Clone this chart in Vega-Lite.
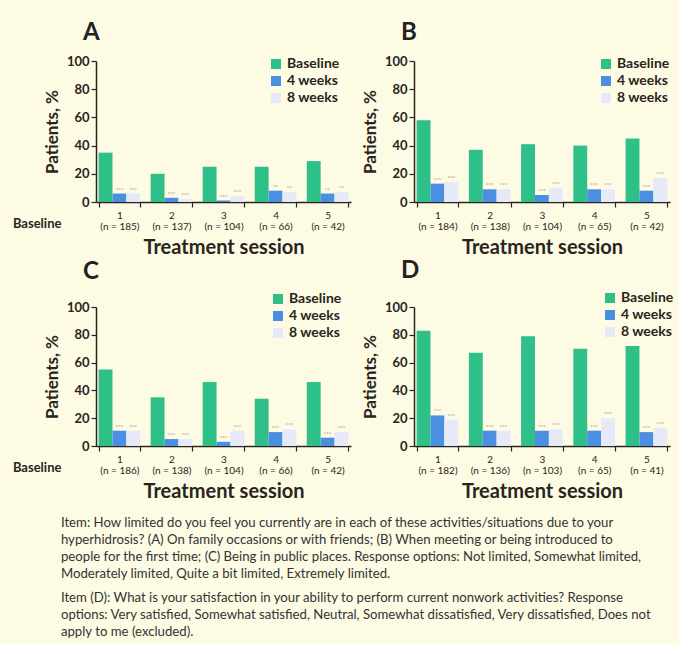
{
  "$schema": "https://vega.github.io/schema/vega-lite/v6.json",
  "background": "#fdfbe4",
  "padding": {"left": 12, "top": 21, "right": 5, "bottom": 5},
  "datasets": {
    "d": [
      {"panel": "A", "s": "1|(n = 185)", "series": "Baseline", "v": 35, "sig": ""},
      {"panel": "A", "s": "1|(n = 185)", "series": "4 weeks", "v": 6, "sig": "***"},
      {"panel": "A", "s": "1|(n = 185)", "series": "8 weeks", "v": 6, "sig": "***"},
      {"panel": "A", "s": "2|(n = 137)", "series": "Baseline", "v": 20, "sig": ""},
      {"panel": "A", "s": "2|(n = 137)", "series": "4 weeks", "v": 3, "sig": "***"},
      {"panel": "A", "s": "2|(n = 137)", "series": "8 weeks", "v": 2, "sig": "***"},
      {"panel": "A", "s": "3|(n = 104)", "series": "Baseline", "v": 25, "sig": ""},
      {"panel": "A", "s": "3|(n = 104)", "series": "4 weeks", "v": 1, "sig": "***"},
      {"panel": "A", "s": "3|(n = 104)", "series": "8 weeks", "v": 4, "sig": "***"},
      {"panel": "A", "s": "4|(n = 66)", "series": "Baseline", "v": 25, "sig": ""},
      {"panel": "A", "s": "4|(n = 66)", "series": "4 weeks", "v": 8, "sig": "**"},
      {"panel": "A", "s": "4|(n = 66)", "series": "8 weeks", "v": 7, "sig": "**"},
      {"panel": "A", "s": "5|(n = 42)", "series": "Baseline", "v": 29, "sig": ""},
      {"panel": "A", "s": "5|(n = 42)", "series": "4 weeks", "v": 6, "sig": "**"},
      {"panel": "A", "s": "5|(n = 42)", "series": "8 weeks", "v": 7, "sig": "**"},
      {"panel": "B", "s": "1|(n = 184)", "series": "Baseline", "v": 58, "sig": ""},
      {"panel": "B", "s": "1|(n = 184)", "series": "4 weeks", "v": 13, "sig": "***"},
      {"panel": "B", "s": "1|(n = 184)", "series": "8 weeks", "v": 14, "sig": "***"},
      {"panel": "B", "s": "2|(n = 138)", "series": "Baseline", "v": 37, "sig": ""},
      {"panel": "B", "s": "2|(n = 138)", "series": "4 weeks", "v": 9, "sig": "***"},
      {"panel": "B", "s": "2|(n = 138)", "series": "8 weeks", "v": 9, "sig": "***"},
      {"panel": "B", "s": "3|(n = 104)", "series": "Baseline", "v": 41, "sig": ""},
      {"panel": "B", "s": "3|(n = 104)", "series": "4 weeks", "v": 5, "sig": "***"},
      {"panel": "B", "s": "3|(n = 104)", "series": "8 weeks", "v": 10, "sig": "***"},
      {"panel": "B", "s": "4|(n = 65)", "series": "Baseline", "v": 40, "sig": ""},
      {"panel": "B", "s": "4|(n = 65)", "series": "4 weeks", "v": 9, "sig": "***"},
      {"panel": "B", "s": "4|(n = 65)", "series": "8 weeks", "v": 9, "sig": "***"},
      {"panel": "B", "s": "5|(n = 42)", "series": "Baseline", "v": 45, "sig": ""},
      {"panel": "B", "s": "5|(n = 42)", "series": "4 weeks", "v": 8, "sig": "***"},
      {"panel": "B", "s": "5|(n = 42)", "series": "8 weeks", "v": 17, "sig": "***"},
      {"panel": "C", "s": "1|(n = 186)", "series": "Baseline", "v": 55, "sig": ""},
      {"panel": "C", "s": "1|(n = 186)", "series": "4 weeks", "v": 11, "sig": "***"},
      {"panel": "C", "s": "1|(n = 186)", "series": "8 weeks", "v": 11, "sig": "***"},
      {"panel": "C", "s": "2|(n = 138)", "series": "Baseline", "v": 35, "sig": ""},
      {"panel": "C", "s": "2|(n = 138)", "series": "4 weeks", "v": 5, "sig": "***"},
      {"panel": "C", "s": "2|(n = 138)", "series": "8 weeks", "v": 5, "sig": "***"},
      {"panel": "C", "s": "3|(n = 104)", "series": "Baseline", "v": 46, "sig": ""},
      {"panel": "C", "s": "3|(n = 104)", "series": "4 weeks", "v": 3, "sig": "***"},
      {"panel": "C", "s": "3|(n = 104)", "series": "8 weeks", "v": 11, "sig": "***"},
      {"panel": "C", "s": "4|(n = 66)", "series": "Baseline", "v": 34, "sig": ""},
      {"panel": "C", "s": "4|(n = 66)", "series": "4 weeks", "v": 10, "sig": "***"},
      {"panel": "C", "s": "4|(n = 66)", "series": "8 weeks", "v": 12, "sig": "***"},
      {"panel": "C", "s": "5|(n = 42)", "series": "Baseline", "v": 46, "sig": ""},
      {"panel": "C", "s": "5|(n = 42)", "series": "4 weeks", "v": 6, "sig": "***"},
      {"panel": "C", "s": "5|(n = 42)", "series": "8 weeks", "v": 10, "sig": "***"},
      {"panel": "D", "s": "1|(n = 182)", "series": "Baseline", "v": 83, "sig": ""},
      {"panel": "D", "s": "1|(n = 182)", "series": "4 weeks", "v": 22, "sig": "***"},
      {"panel": "D", "s": "1|(n = 182)", "series": "8 weeks", "v": 19, "sig": "***"},
      {"panel": "D", "s": "2|(n = 136)", "series": "Baseline", "v": 67, "sig": ""},
      {"panel": "D", "s": "2|(n = 136)", "series": "4 weeks", "v": 11, "sig": "***"},
      {"panel": "D", "s": "2|(n = 136)", "series": "8 weeks", "v": 11, "sig": "***"},
      {"panel": "D", "s": "3|(n = 103)", "series": "Baseline", "v": 79, "sig": ""},
      {"panel": "D", "s": "3|(n = 103)", "series": "4 weeks", "v": 11, "sig": "***"},
      {"panel": "D", "s": "3|(n = 103)", "series": "8 weeks", "v": 12, "sig": "***"},
      {"panel": "D", "s": "4|(n = 65)", "series": "Baseline", "v": 70, "sig": ""},
      {"panel": "D", "s": "4|(n = 65)", "series": "4 weeks", "v": 11, "sig": "***"},
      {"panel": "D", "s": "4|(n = 65)", "series": "8 weeks", "v": 20, "sig": "***"},
      {"panel": "D", "s": "5|(n = 41)", "series": "Baseline", "v": 72, "sig": ""},
      {"panel": "D", "s": "5|(n = 41)", "series": "4 weeks", "v": 10, "sig": "***"},
      {"panel": "D", "s": "5|(n = 41)", "series": "8 weeks", "v": 13, "sig": "***"}
    ]
  },
  "data": {"name": "d"},
  "title": {
    "text": [
      "Item: How limited do you feel you currently are in each of these activities/situations due to your",
      "hyperhidrosis? (A) On family occasions or with friends; (B) When meeting or being introduced to",
      "people for the first time; (C) Being in public places. Response options: Not limited, Somewhat limited,",
      "Moderately limited, Quite a bit limited, Extremely limited."
    ],
    "subtitle": [
      "Item (D): What is your satisfaction in your ability to perform current nonwork activities? Response",
      "options: Very satisfied, Somewhat satisfied, Neutral, Somewhat dissatisfied, Very dissatisfied, Does not",
      "apply to me (excluded)."
    ],
    "orient": "bottom",
    "anchor": "start",
    "frame": "bounds",
    "font": "Lato",
    "fontSize": 13.2,
    "fontWeight": "normal",
    "lineHeight": 17,
    "color": "#333333",
    "subtitleFont": "Lato",
    "subtitleFontSize": 13.2,
    "subtitleLineHeight": 17,
    "subtitleColor": "#333333",
    "subtitlePadding": 11,
    "offset": 16,
    "dx": 48
  },
  "spacing": 2,
  "resolve": {"legend": {"color": "independent"}, "scale": {"x": "independent"}},
  "vconcat": [
    {
      "hconcat": [
        {
          "title": {"text": "A", "anchor": "start", "frame": "group", "fontSize": 24, "fontWeight": "bold", "dx": -13, "offset": 10, "color": "#222222"},
          "width": 255, "height": 141,
          "transform": [{"filter": "datum.panel == 'A'"}],
          "encoding": {"x": {"field": "s", "type": "nominal", "title": "Treatment session", "scale": {"paddingInner": 0.2, "paddingOuter": 0.05}}},
          "layer": [
            {"mark": {"type": "bar"},
             "encoding": {
               "xOffset": {"field": "series", "sort": ["Baseline", "4 weeks", "8 weeks"], "scale": {"paddingInner": 0, "paddingOuter": 0}},
               "y": {"field": "v", "type": "quantitative", "scale": {"domain": [0, 100]}, "title": "Patients, %"},
               "color": {"field": "series", "sort": ["Baseline", "4 weeks", "8 weeks"], "scale": {"range": ["#2fbf89", "#4b8fe2", "#e6e9f8"]}, "legend": {"orient": "none", "legendX": 173, "legendY": -4, "title": null}}}},
            {"mark": {"type": "text", "fontSize": 6, "color": "#b07070", "dy": -4},
             "encoding": {
               "xOffset": {"field": "series", "sort": ["Baseline", "4 weeks", "8 weeks"]},
               "y": {"field": "v", "type": "quantitative"},
               "text": {"field": "sig"}}},
            {"transform": [{"filter": "datum.series == 'Baseline' && substring(datum.s, 0, 1) == '1'"}],
             "mark": {"type": "text", "text": "Baseline", "align": "right", "baseline": "middle", "dx": -58, "dy": 22, "fontSize": 13, "fontWeight": "bold", "color": "#2a2420"},
             "encoding": {"y": {"datum": 0, "type": "quantitative"}}}
          ]
        },
        {
          "title": {"text": "B", "anchor": "start", "frame": "group", "fontSize": 24, "fontWeight": "bold", "dx": -13, "offset": 10, "color": "#222222"},
          "width": 256, "height": 141,
          "transform": [{"filter": "datum.panel == 'B'"}],
          "encoding": {"x": {"field": "s", "type": "nominal", "title": "Treatment session", "scale": {"paddingInner": 0.2, "paddingOuter": 0.05}}},
          "layer": [
            {"mark": {"type": "bar"},
             "encoding": {
               "xOffset": {"field": "series", "sort": ["Baseline", "4 weeks", "8 weeks"], "scale": {"paddingInner": 0, "paddingOuter": 0}},
               "y": {"field": "v", "type": "quantitative", "scale": {"domain": [0, 100]}, "title": "Patients, %"},
               "color": {"field": "series", "sort": ["Baseline", "4 weeks", "8 weeks"], "scale": {"range": ["#2fbf89", "#4b8fe2", "#e6e9f8"]}, "legend": {"orient": "none", "legendX": 185, "legendY": -4, "title": null}}}},
            {"mark": {"type": "text", "fontSize": 6, "color": "#b07070", "dy": -4},
             "encoding": {
               "xOffset": {"field": "series", "sort": ["Baseline", "4 weeks", "8 weeks"]},
               "y": {"field": "v", "type": "quantitative"},
               "text": {"field": "sig"}}}
          ]
        }
      ],
      "spacing": 10,
      "resolve": {"legend": {"color": "independent"}, "scale": {"x": "independent"}}
    },
    {
      "hconcat": [
        {
          "title": {"text": "C", "anchor": "start", "frame": "group", "fontSize": 24, "fontWeight": "bold", "dx": -13, "offset": 8, "color": "#222222"},
          "width": 255, "height": 139,
          "transform": [{"filter": "datum.panel == 'C'"}],
          "encoding": {"x": {"field": "s", "type": "nominal", "title": "Treatment session", "scale": {"paddingInner": 0.2, "paddingOuter": 0.05}}},
          "layer": [
            {"mark": {"type": "bar"},
             "encoding": {
               "xOffset": {"field": "series", "sort": ["Baseline", "4 weeks", "8 weeks"], "scale": {"paddingInner": 0, "paddingOuter": 0}},
               "y": {"field": "v", "type": "quantitative", "scale": {"domain": [0, 100]}, "title": "Patients, %"},
               "color": {"field": "series", "sort": ["Baseline", "4 weeks", "8 weeks"], "scale": {"range": ["#2fbf89", "#4b8fe2", "#e6e9f8"]}, "legend": {"orient": "none", "legendX": 175, "legendY": -15, "title": null}}}},
            {"mark": {"type": "text", "fontSize": 6, "color": "#b07070", "dy": -4},
             "encoding": {
               "xOffset": {"field": "series", "sort": ["Baseline", "4 weeks", "8 weeks"]},
               "y": {"field": "v", "type": "quantitative"},
               "text": {"field": "sig"}}},
            {"transform": [{"filter": "datum.series == 'Baseline' && substring(datum.s, 0, 1) == '1'"}],
             "mark": {"type": "text", "text": "Baseline", "align": "right", "baseline": "middle", "dx": -58, "dy": 22, "fontSize": 13, "fontWeight": "bold", "color": "#2a2420"},
             "encoding": {"y": {"datum": 0, "type": "quantitative"}}}
          ]
        },
        {
          "title": {"text": "D", "anchor": "start", "frame": "group", "fontSize": 24, "fontWeight": "bold", "dx": -13, "offset": 8, "color": "#222222"},
          "width": 256, "height": 139,
          "transform": [{"filter": "datum.panel == 'D'"}],
          "encoding": {"x": {"field": "s", "type": "nominal", "title": "Treatment session", "scale": {"paddingInner": 0.2, "paddingOuter": 0.05}}},
          "layer": [
            {"mark": {"type": "bar"},
             "encoding": {
               "xOffset": {"field": "series", "sort": ["Baseline", "4 weeks", "8 weeks"], "scale": {"paddingInner": 0, "paddingOuter": 0}},
               "y": {"field": "v", "type": "quantitative", "scale": {"domain": [0, 100]}, "title": "Patients, %"},
               "color": {"field": "series", "sort": ["Baseline", "4 weeks", "8 weeks"], "scale": {"range": ["#2fbf89", "#4b8fe2", "#e6e9f8"]}, "legend": {"orient": "none", "legendX": 189, "legendY": -16, "title": null}}}},
            {"mark": {"type": "text", "fontSize": 6, "color": "#b07070", "dy": -4},
             "encoding": {
               "xOffset": {"field": "series", "sort": ["Baseline", "4 weeks", "8 weeks"]},
               "y": {"field": "v", "type": "quantitative"},
               "text": {"field": "sig"}}}
          ]
        }
      ],
      "spacing": 10,
      "resolve": {"legend": {"color": "independent"}, "scale": {"x": "independent"}}
    }
  ],
  "config": {
    "font": "Lato",
    "view": {"stroke": null},
    "axis": {"grid": false, "domainColor": "#2a2420", "tickColor": "#2a2420", "labelColor": "#2a2420", "titleColor": "#2a2420", "domainWidth": 1.5, "tickWidth": 1.2},
    "axisY": {"values": [0, 20, 40, 60, 80, 100], "labelFontSize": 13, "labelFontWeight": "bold", "titleFontSize": 17, "titleFontWeight": "bold", "tickSize": 5, "labelPadding": 2, "titlePadding": 5},
    "axisX": {"labelAngle": 0, "labelFontSize": 10, "tickBand": "extent", "labelExpr": "split(datum.label, '|')", "labelLineHeight": 11, "labelPadding": 3, "titleFontSize": 20, "titleFontWeight": "bold", "titlePadding": 6, "tickSize": 5},
    "legend": {"symbolType": "square", "symbolSize": 100, "symbolStrokeWidth": 0, "labelFontSize": 14, "labelFontWeight": "bold", "labelColor": "#2a2420", "rowPadding": 3, "padding": 0}
  }
}
